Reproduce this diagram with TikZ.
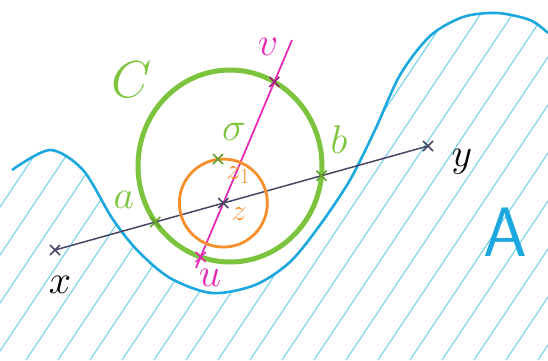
\RequirePackage{fix-cm}
\documentclass[tikz,border=0pt]{standalone}
\usetikzlibrary{intersections}
\definecolor{leaf}{RGB}{125,196,62}
\definecolor{pumpkin}{RGB}{246,142,42}
\definecolor{fuchsia}{RGB}{230,44,182}
\definecolor{sky}{RGB}{28,168,222}
\definecolor{hatchblue}{RGB}{90,200,232}
\definecolor{ink}{RGB}{72,70,100}
\newcommand\crossmark[2]{\draw[#2, line width=1.6pt] (#1) +(-5,-5) -- +(5,5) +(-5,5) -- +(5,-5);}
\begin{document}
\begin{tikzpicture}[x=1pt, y=-1pt, every node/.style={font=\fontsize{40}{40}\selectfont}]
  \useasboundingbox (0,0) rectangle (548,360);
  % region A
  \begin{scope}
    \clip (0,360) -- (0,172) -- plot[smooth] coordinates {(12,170) (50,150) (83,170) (112,218) (137,250) (170,278) (212,293) (255,285) (290,262) (320,225) (350,180) (375,130) (400,75) (430,36) (463,17) (497,13) (530,20) (548,33)} -- (548,360) -- cycle;
    \foreach \s in {-230,-198,...,560}
      \draw[hatchblue, line width=0.9pt] (\s,360) -- ++(240,-360);
  \end{scope}
  \draw[sky, line width=2.6pt] plot[smooth] coordinates {(12,170) (50,150) (83,170) (112,218) (137,250) (170,278) (212,293) (255,285) (290,262) (320,225) (350,180) (375,130) (400,75) (430,36) (463,17) (497,13) (530,20) (548,33)};
  \node[text=sky, font=\fontsize{70}{70}\sffamily] (A) at (505,232) {A};
  % circle C
  \coordinate (o) at (230,166);
  \draw[leaf, line width=5pt, name path=green] (o) ellipse [x radius=92, y radius=96];
  % lines
  \coordinate (X) at (55,250);
  \coordinate (Y) at (428,146);
  \coordinate (U0) at (196,268);
  \coordinate (V0) at (292,40);
  \draw[ink, line width=1.5pt, name path=xy] (X) -- (Y);
  \draw[fuchsia, line width=1.8pt, name path=uv] (U0) -- (V0);
  \path[name intersections={of=xy and uv, name=z}];
  \path[name intersections={of=green and xy, sort by=xy, name=ab}];
  \path[name intersections={of=green and uv, sort by=uv, name=uv}];
  \coordinate (z) at (z-1);
  \coordinate (a) at (ab-1);
  \coordinate (b) at (ab-2);
  \coordinate (u) at (uv-1);
  \coordinate (v) at (uv-2);
  \draw[pumpkin, line width=2.8pt] (z) circle [radius=44];
  \coordinate (s) at (218,159);
  % marks
  \crossmark{X}{ink}
  \crossmark{Y}{ink}
  \crossmark{z}{ink}
  \crossmark{a}{leaf!80!black}
  \crossmark{b}{leaf!80!black}
  \crossmark{s}{leaf!80!black}
  \crossmark{v}{fuchsia!70!black}
  \crossmark{u}{fuchsia}
  % labels
  \node[text=leaf, font=\fontsize{52}{52}\selectfont] (lC) at (132,80) {$C$};
  \node[text=fuchsia] (lv) at (268,47) {$v$};
  \node[text=fuchsia] (lu) at (210,278) {$u$};
  \node[text=leaf, font=\fontsize{40}{40}\selectfont] (ls) at (234,132) {$\sigma$};
  \node[text=leaf] (la) at (124,200) {$a$};
  \node[text=leaf] (lb) at (339,140) {$b$};
  \node[text=pumpkin, font=\fontsize{30}{30}\selectfont] (lz1) at (238,175) {$z_1$};
  \node[text=pumpkin, font=\fontsize{30}{30}\selectfont] (lz) at (239,214) {$z$};
  \node (lx) at (60,285) {$x$};
  \node (ly) at (462,162) {$y$};
\end{tikzpicture}
\end{document}
